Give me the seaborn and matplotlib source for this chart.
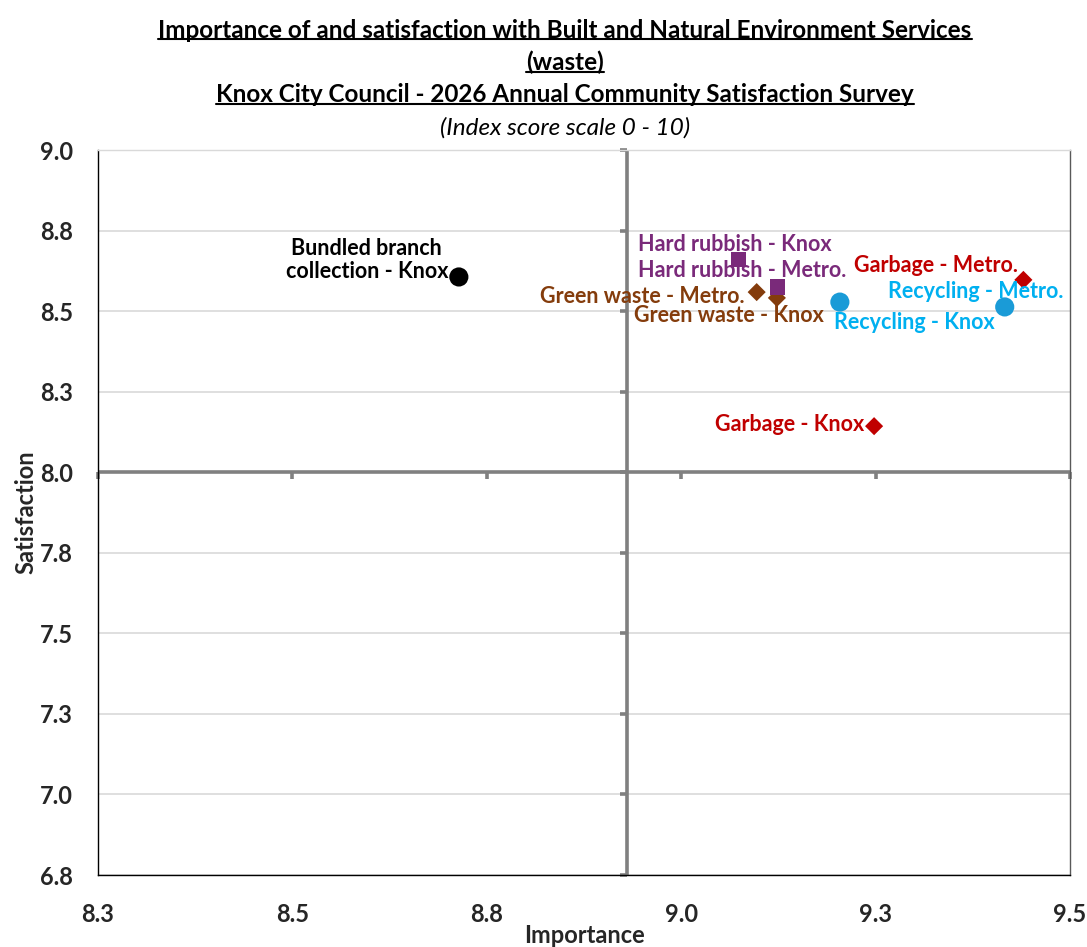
import pandas as pd
import seaborn as sns
import matplotlib.pyplot as plt
from matplotlib.lines import Line2D
from matplotlib.markers import TICKLEFT, TICKDOWN
from decimal import Decimal, ROUND_HALF_UP

# --- Dados ---
servicos = [
    "Bundled branch\ncollection - Knox",
    "Hard rubbish - Knox",
    "Hard rubbish - Metro.",
    "Green waste - Metro.",
    "Green waste - Knox",
    "Recycling - Knox",
    "Recycling - Metro.",
    "Garbage - Metro.",
    "Garbage - Knox",
]
importancia = [8.714, 9.074, 9.124, 9.097, 9.123, 9.204, 9.416, 9.440, 9.248]
satisfacao = [8.606, 8.659, 8.575, 8.559, 8.541, 8.528, 8.513, 8.597, 8.143]
media_importancia = 8.93
media_satisfacao = 8.0
x_ticks = [8.25, 8.5, 8.75, 9.0, 9.25, 9.5]
y_ticks = [6.75, 7.0, 7.25, 7.5, 7.75, 8.0, 8.25, 8.5, 8.75, 9.0]

# --- Estilo ---
cores = {
    "Bundled branch\ncollection - Knox": "#000000",
    "Hard rubbish - Knox": "#7A2A7A",
    "Hard rubbish - Metro.": "#7A2A7A",
    "Green waste - Metro.": "#843C0C",
    "Green waste - Knox": "#843C0C",
    "Recycling - Knox": "#1A9BD7",
    "Recycling - Metro.": "#1A9BD7",
    "Garbage - Metro.": "#C00000",
    "Garbage - Knox": "#C00000",
}
cores_texto = dict(cores)
cores_texto["Recycling - Knox"] = "#00B0F0"
cores_texto["Recycling - Metro."] = "#00B0F0"
marcadores = {
    "Bundled branch\ncollection - Knox": "o",
    "Hard rubbish - Knox": "s",
    "Hard rubbish - Metro.": "s",
    "Green waste - Metro.": "D",
    "Green waste - Knox": "D",
    "Recycling - Knox": "o",
    "Recycling - Metro.": "o",
    "Garbage - Metro.": "D",
    "Garbage - Knox": "D",
}
tamanhos = {"o": 190, "s": 120, "D": 85}
# posicao dos rotulos (offset em pixels, alinhamento)
rotulos = {
    "Bundled branch\ncollection - Knox": (-92, 17, "center"),
    "Hard rubbish - Knox": (-4, 15, "center"),
    "Hard rubbish - Metro.": (-36, 16, "center"),
    "Green waste - Metro.": (-12, -4, "right"),
    "Green waste - Knox": (-48, -18, "center"),
    "Recycling - Knox": (75, -20, "center"),
    "Recycling - Metro.": (-29, 15, "center"),
    "Garbage - Metro.": (-6, 14, "right"),
    "Garbage - Knox": (-10, 2, "right"),
}


def fmt(v):
    # arredondamento "meio para cima", como no Excel
    return str(Decimal(str(v)).quantize(Decimal("0.1"), rounding=ROUND_HALF_UP))


sns.set_theme(style="white")
plt.rcParams["font.family"] = ["Lato", "DejaVu Sans"]

df = pd.DataFrame({"Servico": servicos, "Importance": importancia, "Satisfaction": satisfacao})
df["marcador"] = df["Servico"].map(marcadores)

fig = plt.figure(figsize=(10.87, 9.47), dpi=100)
ax = fig.add_axes([0.0902, 0.0760, 0.8942, 0.7656])

ax.set_xlim(8.25, 9.5)
ax.set_ylim(6.75, 9.0)

# grade horizontal
for y in y_ticks:
    ax.axhline(y, color="#D9D9D9", lw=1.2, zorder=0)

# eixos cruzados
cinza = "#808080"
ax.axhline(media_satisfacao, color=cinza, lw=2.6, zorder=1)
ax.axvline(media_importancia, color=cinza, lw=2.6, zorder=1)
ax.plot([media_importancia] * len(y_ticks), y_ticks, ls="none", marker=TICKLEFT,
        ms=5, mew=2.6, color=cinza, zorder=1, clip_on=False)
ax.plot(x_ticks, [media_satisfacao] * len(x_ticks), ls="none", marker=TICKDOWN,
        ms=5, mew=2.6, color=cinza, zorder=1, clip_on=False)

for m, grupo in df.groupby("marcador"):
    sns.scatterplot(data=grupo, x="Importance", y="Satisfaction", hue="Servico",
                    palette=cores, marker=m, s=tamanhos[m], linewidth=0,
                    legend=False, ax=ax, zorder=3)

for nome, xi, yi in zip(servicos, importancia, satisfacao):
    dx, dy, ha = rotulos[nome]
    ax.annotate(nome, (xi, yi), xytext=(dx, dy), textcoords="offset pixels",
                ha=ha, va="center", multialignment="center", fontsize=15.5,
                fontweight="bold", color=cores_texto[nome], zorder=4,
                linespacing=1.15)

ax.set_xticks(x_ticks)
ax.set_yticks(y_ticks)
ax.set_xticklabels([fmt(v) for v in x_ticks], fontweight="bold", fontsize=17)
ax.set_yticklabels([fmt(v) for v in y_ticks], fontweight="bold", fontsize=17)
ax.tick_params(axis="x", length=0, pad=20)
ax.tick_params(axis="y", length=0, pad=18)
ax.set_xlabel("Importance", fontsize=17, fontweight="bold", labelpad=-1)
ax.set_ylabel("Satisfaction", fontsize=17, fontweight="bold", labelpad=2)

ax.spines["left"].set_color("#000000")
ax.spines["bottom"].set_color("#000000")
ax.spines["top"].set_color("#D9D9D9")
ax.spines["right"].set_color("#595959")
for s in ax.spines.values():
    s.set_linewidth(1.0)

# titulo sublinhado
linhas = [
    ("Importance of and satisfaction with Built and Natural Environment Services", 30),
    ("(waste)", 62),
    ("Knox City Council - 2026 Annual Community Satisfaction Survey", 95),
]
textos = []
for txt, ypx in linhas:
    t = fig.text(565 / 1087, 1 - ypx / 947, txt, ha="center", va="center",
                 fontsize=17.5, fontweight="bold", color="#000000")
    textos.append(t)
fig.text(565 / 1087, 1 - 128 / 947, "(Index score scale 0 - 10)", ha="center",
         va="center", fontsize=17.5, fontstyle="italic", color="#000000")

fig.canvas.draw()
r = fig.canvas.get_renderer()
inv = fig.transFigure.inverted()
for t in textos:
    bb = t.get_window_extent(r)
    (x0, y0), (x1, _) = inv.transform([(bb.x0, bb.y0 + 2), (bb.x1, bb.y0)])
    fig.add_artist(Line2D([x0, x1], [y0, y0], transform=fig.transFigure,
                          color="#000000", lw=1.5))

fig.savefig("out.png", dpi=100)
